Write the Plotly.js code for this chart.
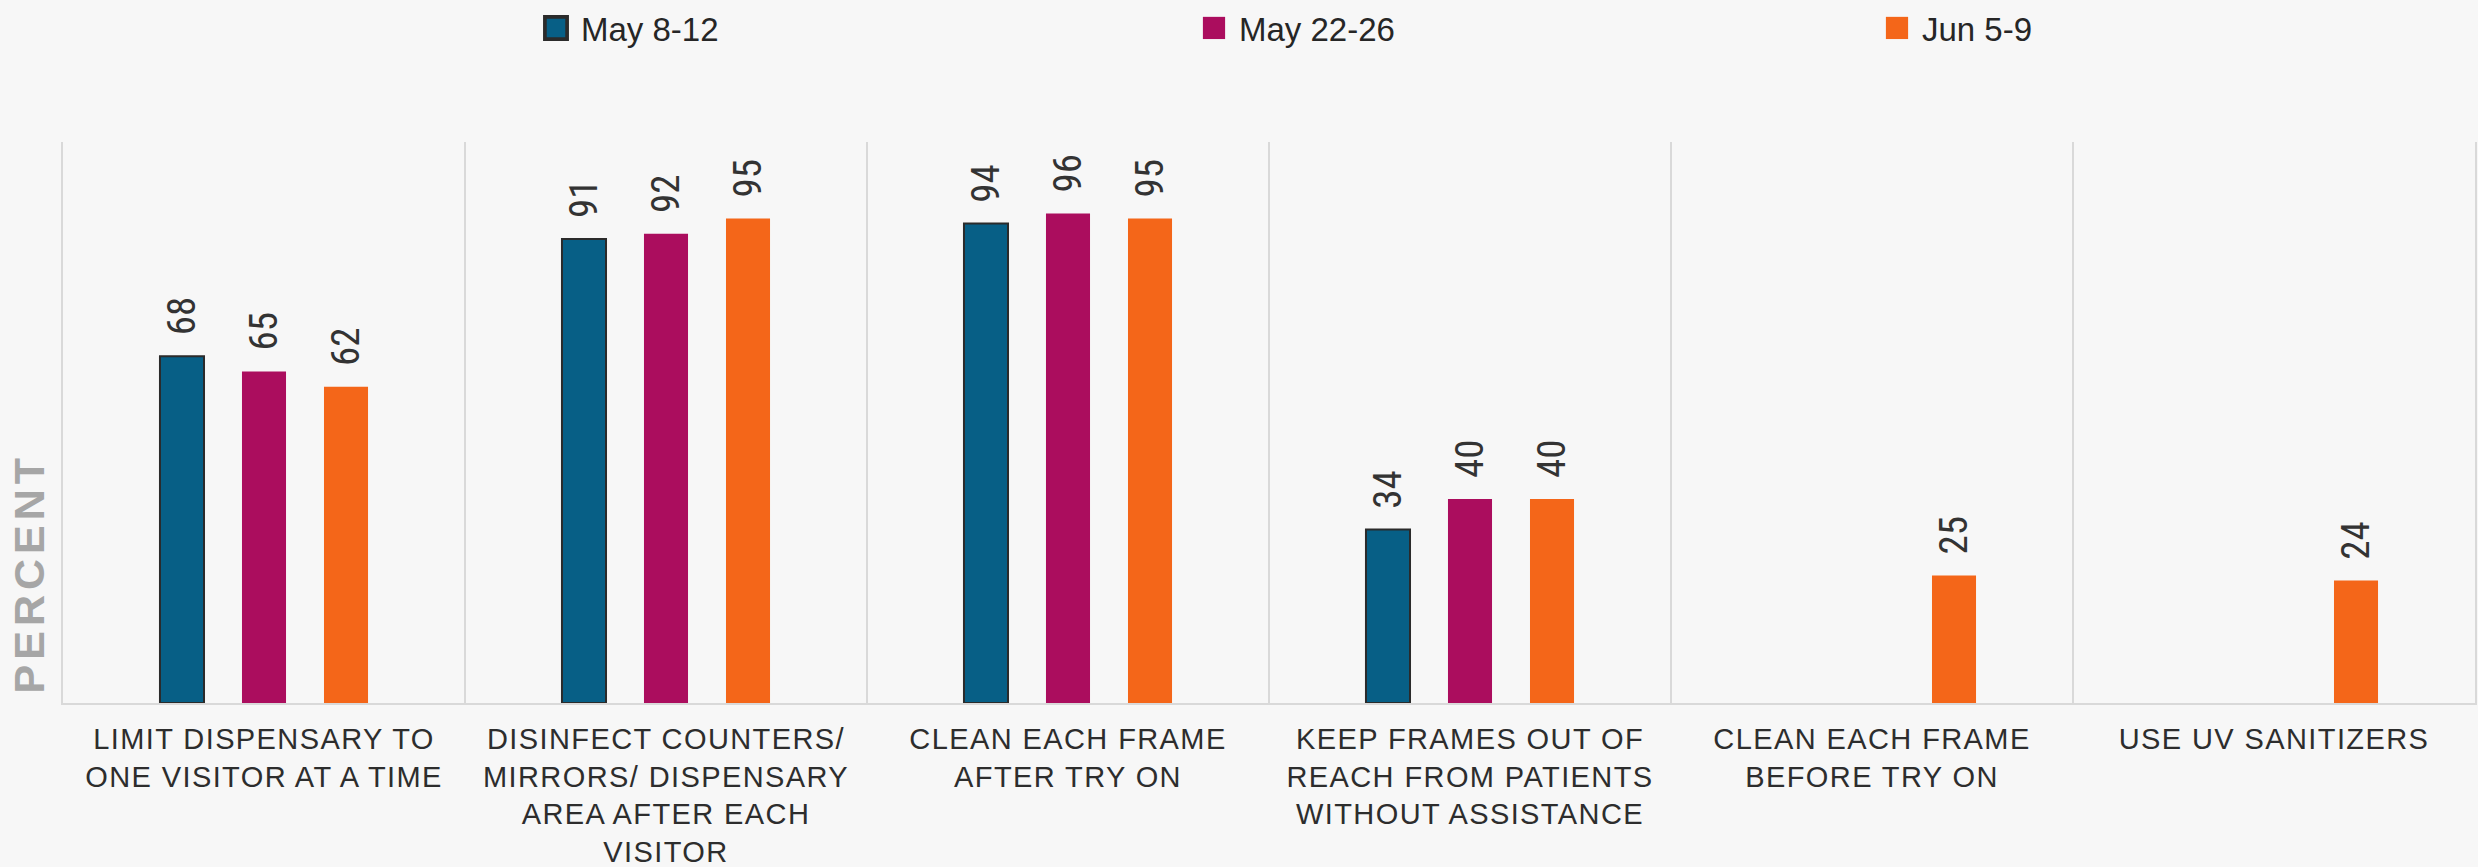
<!DOCTYPE html>
<html>
<head>
<meta charset="utf-8">
<script src="https://cdn.plot.ly/plotly-3.0.1.min.js"></script>
<style>
  html, body { margin: 0; padding: 0; background: #f7f7f7; }
  #chart { width: 2478px; height: 867px; }
  .annotation-text { letter-spacing: 5px; }
  .xtick text { letter-spacing: 1.4px; }
  .legendpoints path { transform: translate(15px, 0px) scale(1.85); }
</style>
</head>
<body>
<div id="chart"></div>
<script>
const categories = [
  "LIMIT DISPENSARY TO<br>ONE VISITOR AT A TIME",
  "DISINFECT COUNTERS/<br>MIRRORS/ DISPENSARY<br>AREA AFTER EACH<br>VISITOR",
  "CLEAN EACH FRAME<br>AFTER TRY ON",
  "KEEP FRAMES OUT OF<br>REACH FROM PATIENTS<br>WITHOUT ASSISTANCE",
  "CLEAN EACH FRAME<br>BEFORE TRY ON",
  "USE UV SANITIZERS"
];
const seriesNames = ["May 8-12", "May 22-26", "Jun 5-9"];
const may8_12  = [68, 91, 94, 34, null, null];
const may22_26 = [65, 92, 96, 40, null, null];
const jun5_9   = [62, 95, 95, 40, 25, 24];
const yAxisLabel = "PERCENT";

const colors = ["#075f86", "#ab0d5e", "#f46619"];
const lineColors = ["#2b2b2b", "rgba(0,0,0,0)", "rgba(0,0,0,0)"];
const lineWidths = [2, 0, 0];
const legendIds = ["legend", "legend2", "legend3"];
const labelFont = {family: "'Liberation Sans Narrow', 'Roboto Condensed', 'DejaVu Sans Condensed', sans-serif", size: 39, color: "#333333"};

const allSeries = [may8_12, may22_26, jun5_9];
const traces = allSeries.map((vals, i) => ({
  type: "bar",
  name: seriesNames[i],
  x: categories,
  y: vals,
  legend: legendIds[i],
  marker: {color: colors[i], line: {color: lineColors[i], width: lineWidths[i]}},
  texttemplate: "\u00a0\u00a0%{y}",
  textposition: "outside",
  textangle: -90,
  constraintext: "none",
  cliponaxis: false,
  textfont: labelFont,
  hoverinfo: "x+y+name"
}));

const legendFont = {family: "'Liberation Sans', Arial, sans-serif", size: 33, color: "#262626"};
function legendAt(px) {
  return {
    xref: "container", yref: "container",
    x: px / 2478, y: 1, xanchor: "left", yanchor: "top",
    orientation: "h", bgcolor: "rgba(0,0,0,0)", borderwidth: 0,
    font: legendFont
  };
}

const layout = {
  width: 2478, height: 867,
  margin: {l: 63, r: 3, t: 142, b: 164},
  paper_bgcolor: "#f7f7f7",
  plot_bgcolor: "rgba(0,0,0,0)",
  barmode: "group",
  bargap: 0.388,
  bargroupgap: 0.463,
  showlegend: true,
  legend: legendAt(541),
  legend2: legendAt(1199),
  legend3: legendAt(1882),
  xaxis: {
    type: "category",
    range: [-0.5, 5.5],
    tickson: "boundaries",
    showgrid: true, gridcolor: "#d9d9d9", gridwidth: 2,
    showline: true, linecolor: "#d9d9d9", linewidth: 2,
    ticks: "",
    ticklabelstandoff: 9,
    tickfont: {family: "'Liberation Sans', Arial, sans-serif", size: 29, color: "#2d2d2d"},
    tickangle: 0,
    automargin: false
  },
  yaxis: {
    range: [0, 110],
    showgrid: false, zeroline: false,
    showticklabels: false, ticks: "",
    showline: true, linecolor: "#d9d9d9", linewidth: 2, mirror: true,
    automargin: false
  },
  annotations: [{
    text: yAxisLabel,
    xref: "paper", yref: "paper",
    x: -0.0143, y: 0.23,
    xanchor: "center", yanchor: "middle",
    textangle: -90, showarrow: false,
    font: {family: "'Liberation Sans', Arial, sans-serif", size: 43, color: "#a6a6a6", weight: "bold"}
  }]
};

Plotly.newPlot("chart", traces, layout, {displayModeBar: false, staticPlot: true});
</script>
</body>
</html>
